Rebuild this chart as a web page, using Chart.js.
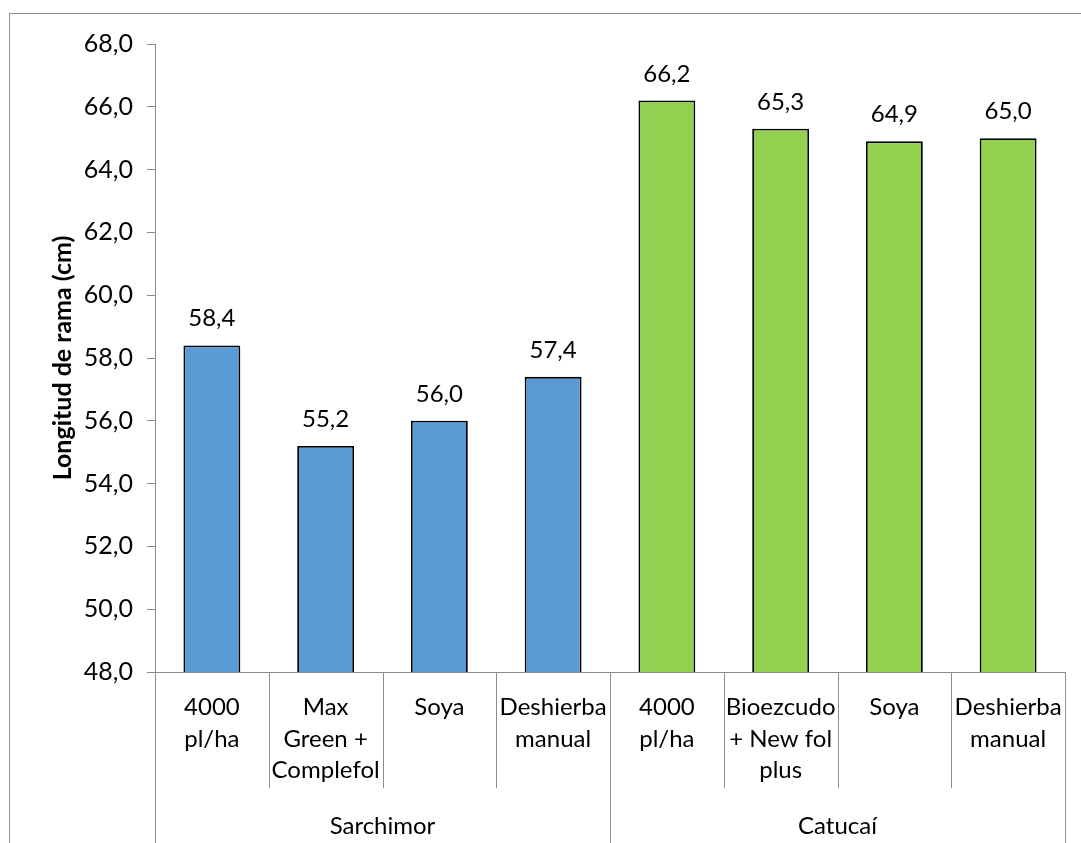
<!DOCTYPE html>
<html>
<head>
<meta charset="utf-8">
<script src="https://cdn.jsdelivr.net/npm/chart.js@4.4.1/dist/chart.umd.min.js"></script>
<style>
  html, body { margin: 0; padding: 0; background: #fff; }
  #wrap { position: relative; width: 1081px; height: 843px; overflow: hidden; }
  #frame { position: absolute; left: 9px; top: 13px; width: 1200px; height: 1000px;
           border-left: 1px solid #8c8c8c; border-top: 1px solid #8c8c8c; }
  canvas { position: absolute; left: 0; top: 0; }
</style>
</head>
<body>
<div id="wrap">
  <div id="frame"></div>
  <canvas id="c" width="1081" height="843"></canvas>
</div>
<script>
// Treatments (two-level categories: variety / treatment)
const treatments = [
  ['4000', 'pl/ha'],
  ['Max', 'Green +', 'Complefol'],
  ['Soya'],
  ['Deshierba', 'manual'],
  ['4000', 'pl/ha'],
  ['Bioezcudo', '+ New fol', 'plus'],
  ['Soya'],
  ['Deshierba', 'manual']
];
const varieties = ['Sarchimor', 'Catucaí'];
const varietySize = [4, 4];
const branchLength = [58.4, 55.2, 56.0, 57.4, 66.2, 65.3, 64.9, 65.0];
const barColors = ['#5B9BD5', '#5B9BD5', '#5B9BD5', '#5B9BD5', '#92D050', '#92D050', '#92D050', '#92D050'];
const yTicks = [48, 50, 52, 54, 56, 58, 60, 62, 64, 66, 68];

const FONT = 'Lato, "Open Sans", sans-serif';
const AXIS_GREY = '#8c8c8c';
const fmt = v => v.toFixed(1).replace('.', ',');

// Value labels above each bar
const valueLabels = {
  id: 'valueLabels',
  afterDatasetsDraw(chart) {
    const ctx = chart.ctx;
    const meta = chart.getDatasetMeta(0);
    ctx.save();
    ctx.font = '24px ' + FONT;
    ctx.fillStyle = '#000';
    ctx.textAlign = 'center';
    ctx.textBaseline = 'alphabetic';
    meta.data.forEach((bar, i) => {
      ctx.fillText(fmt(branchLength[i]), bar.x, bar.y - 19);
    });
    ctx.restore();
  }
};

// Category separators and variety labels below the x axis
const groupAxis = {
  id: 'groupAxis',
  afterDraw(chart) {
    const ctx = chart.ctx;
    const x = chart.scales.x;
    const area = chart.chartArea;
    const n = treatments.length;
    const step = x.getPixelForValue(1) - x.getPixelForValue(0);
    const edge = i => x.getPixelForValue(i) - step / 2;
    const groupStarts = [0];
    varietySize.forEach((s, k) => groupStarts.push(groupStarts[k] + s));
    ctx.save();
    ctx.strokeStyle = AXIS_GREY;
    ctx.lineWidth = 1;
    for (let i = 0; i <= n; i++) {
      const px = Math.round(edge(i)) + 0.5;
      const isGroup = groupStarts.includes(i);
      ctx.beginPath();
      ctx.moveTo(px, area.bottom);
      ctx.lineTo(px, isGroup ? chart.height : area.bottom + 116);
      ctx.stroke();
    }
    ctx.font = '24px ' + FONT;
    ctx.fillStyle = '#000';
    ctx.textAlign = 'center';
    ctx.textBaseline = 'middle';
    varieties.forEach((name, k) => {
      const a = edge(groupStarts[k]);
      const b = edge(groupStarts[k + 1]);
      ctx.fillText(name, (a + b) / 2, 826);
    });
    ctx.restore();
  }
};

new Chart(document.getElementById('c'), {
  type: 'bar',
  data: {
    labels: treatments,
    datasets: [{
      data: branchLength,
      backgroundColor: barColors,
      borderColor: '#000',
      borderWidth: 1.8,
      barPercentage: 0.5,
      categoryPercentage: 1.0
    }]
  },
  options: {
    responsive: false,
    animation: false,
    devicePixelRatio: 1,
    layout: { padding: { top: 44, right: 16, left: 0, bottom: 0 } },
    plugins: { legend: { display: false }, tooltip: { enabled: false } },
    scales: {
      y: {
        min: 48, max: 68,
        afterBuildTicks(scale) { scale.ticks = yTicks.map(v => ({ value: v })); },
        afterFit(scale) { scale.width = 155; },
        ticks: {
          callback: v => fmt(v),
          font: { family: FONT, size: 25 },
          color: '#000',
          padding: 14
        },
        grid: { drawOnChartArea: false, drawTicks: true, tickLength: 8, color: AXIS_GREY },
        border: { color: AXIS_GREY, width: 1 },
        title: {
          display: true,
          text: 'Longitud de rama (cm)',
          font: { family: FONT, size: 25, weight: 'bold' },
          color: '#000',
          padding: { top: 48, bottom: 0 }
        }
      },
      x: {
        afterFit(scale) { scale.height = 171; },
        ticks: {
          font: { family: FONT, size: 24, lineHeight: 1.3 },
          color: '#000',
          padding: 12,
          maxRotation: 0,
          autoSkip: false
        },
        grid: { display: false },
        border: { color: AXIS_GREY, width: 1 }
      }
    }
  },
  plugins: [valueLabels, groupAxis]
});
</script>
</body>
</html>
